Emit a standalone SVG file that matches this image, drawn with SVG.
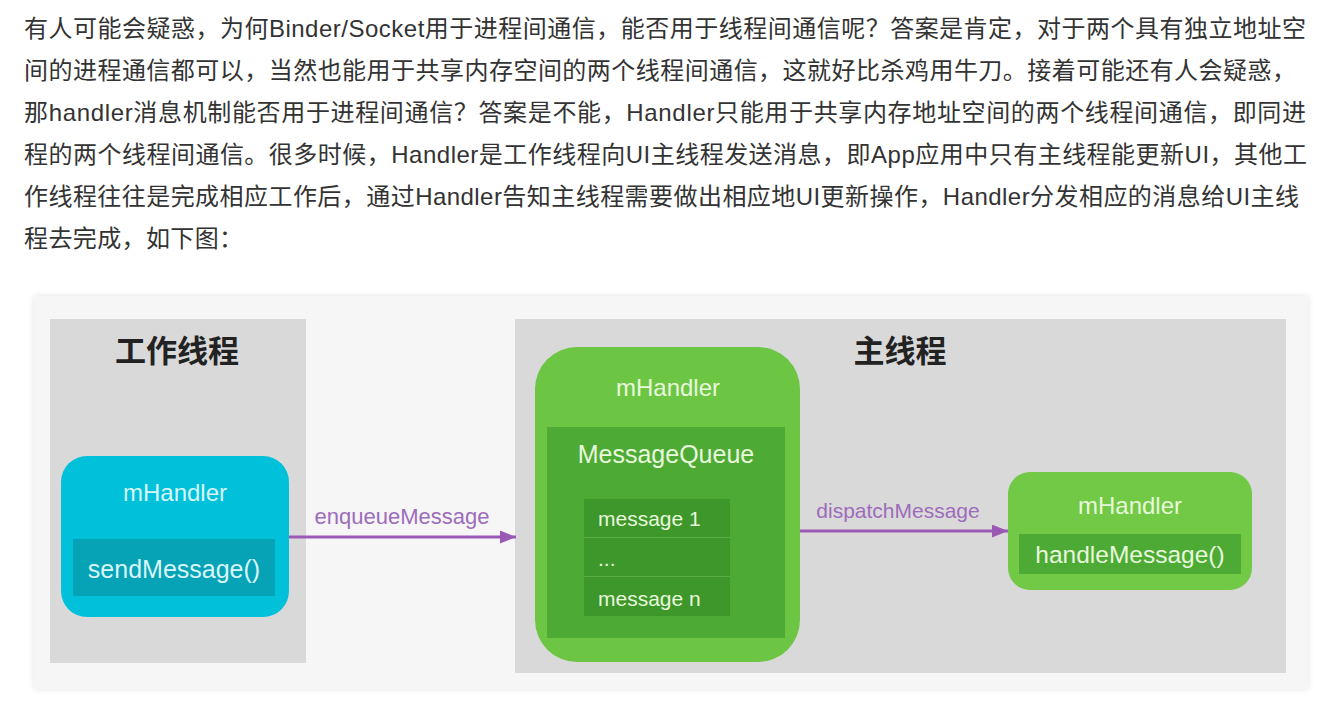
<svg xmlns="http://www.w3.org/2000/svg" width="1330" height="710" viewBox="0 0 1330 710">
<defs>
<style>
.para{font-family:"Liberation Sans","Noto Sans CJK SC",sans-serif;font-size:24px;fill:#333333}
.title{font-family:"Noto Sans CJK SC","Liberation Sans",sans-serif;font-size:31px;font-weight:bold;fill:#222222;text-anchor:middle}
.lbl{font-family:"Liberation Sans",Arial,sans-serif;text-anchor:middle}
.cy{fill:#d8f6fa}
.gr{fill:#e8f8dc}
.msg{font-family:"Liberation Sans",Arial,sans-serif;font-size:21px;fill:#e8f8dc}
.edge{stroke:#9b59b6;stroke-width:3;fill:none}
.elbl{font-family:"Liberation Sans",Arial,sans-serif;fill:#9d6cbb;text-anchor:middle}
.panel{fill:#d9d9d9}
</style>
<marker id="arr" markerUnits="userSpaceOnUse" markerWidth="16" markerHeight="13" refX="16" refY="6.5" orient="auto">
<path d="M0,0 L16,6.5 L0,13 z" fill="#9b59b6"/>
</marker>
<filter id="sh" x="-5%" y="-5%" width="110%" height="110%">
<feGaussianBlur in="SourceAlpha" stdDeviation="3"/>
<feComponentTransfer><feFuncA type="linear" slope="0.12"/></feComponentTransfer>
<feMerge><feMergeNode/><feMergeNode in="SourceGraphic"/></feMerge>
</filter>
</defs>
<rect x="0" y="0" width="1330" height="710" fill="#ffffff"/>
<g id="paragraph">
<text class="para" x="24" y="37" textLength="1282" lengthAdjust="spacing">有人可能会疑惑，为何Binder/Socket用于进程间通信，能否用于线程间通信呢？答案是肯定，对于两个具有独立地址空</text>
<text class="para" x="24" y="79" textLength="1272" lengthAdjust="spacing">间的进程通信都可以，当然也能用于共享内存空间的两个线程间通信，这就好比杀鸡用牛刀。接着可能还有人会疑惑，</text>
<text class="para" x="24" y="121" textLength="1282" lengthAdjust="spacing">那handler消息机制能否用于进程间通信？答案是不能，Handler只能用于共享内存地址空间的两个线程间通信，即同进</text>
<text class="para" x="24" y="163" textLength="1283" lengthAdjust="spacing">程的两个线程间通信。很多时候，Handler是工作线程向UI主线程发送消息，即App应用中只有主线程能更新UI，其他工</text>
<text class="para" x="24" y="205" textLength="1275" lengthAdjust="spacing">作线程往往是完成相应工作后，通过Handler告知主线程需要做出相应地UI更新操作，Handler分发相应的消息给UI主线</text>
<text class="para" x="24" y="247" textLength="219" lengthAdjust="spacing">程去完成，如下图：</text>
</g>
<rect x="34" y="296" width="1274" height="393" fill="#f6f6f7" filter="url(#sh)"/>
<g id="worker-thread">
<rect class="panel" x="50" y="319" width="256" height="344"/>
<text class="title" x="177" y="362">工作线程</text>
</g>
<g id="main-thread">
<rect class="panel" x="515" y="319" width="771" height="354"/>
<text class="title" x="900" y="362">主线程</text>
</g>
<g id="worker-handler">
<rect x="61" y="456" width="228" height="161" rx="26" fill="#00c1d9"/>
<text class="lbl cy" x="175" y="501" font-size="24">mHandler</text>
<rect x="73" y="539" width="202" height="57" fill="#06a3b7"/>
<text class="lbl cy" x="174" y="578" font-size="25">sendMessage()</text>
</g>
<g id="main-handler-queue">
<rect x="535" y="347" width="265" height="315" rx="42" fill="#6cc644"/>
<text class="lbl gr" x="668" y="396" font-size="24">mHandler</text>
<rect x="547" y="427" width="238" height="211" fill="#4dab35"/>
<text class="lbl gr" x="666" y="463" font-size="25">MessageQueue</text>
<rect x="584" y="499" width="146" height="117" fill="#5aae45"/>
<rect x="584" y="499" width="146" height="38" fill="#3e972b"/>
<rect x="584" y="538" width="146" height="38" fill="#3e972b"/>
<rect x="584" y="577" width="146" height="39" fill="#3e972b"/>
<text class="msg" x="598" y="526">message 1</text>
<text class="msg" x="598" y="566">...</text>
<text class="msg" x="598" y="606">message n</text>
</g>
<g id="main-handler">
<rect x="1008" y="472" width="244" height="118" rx="22" fill="#72c945"/>
<text class="lbl gr" x="1130" y="514" font-size="24">mHandler</text>
<rect x="1019" y="534" width="222" height="40" fill="#4dab35"/>
<text class="lbl gr" x="1130" y="563" font-size="24.5">handleMessage()</text>
</g>
<g id="connectors">
<line class="edge" x1="289" y1="537" x2="516" y2="537" marker-end="url(#arr)"/>
<text class="elbl" x="402" y="524" font-size="22">enqueueMessage</text>
<line class="edge" x1="800" y1="531" x2="1008" y2="531" marker-end="url(#arr)"/>
<text class="elbl" x="898" y="518" font-size="21">dispatchMessage</text>
</g>
</svg>
